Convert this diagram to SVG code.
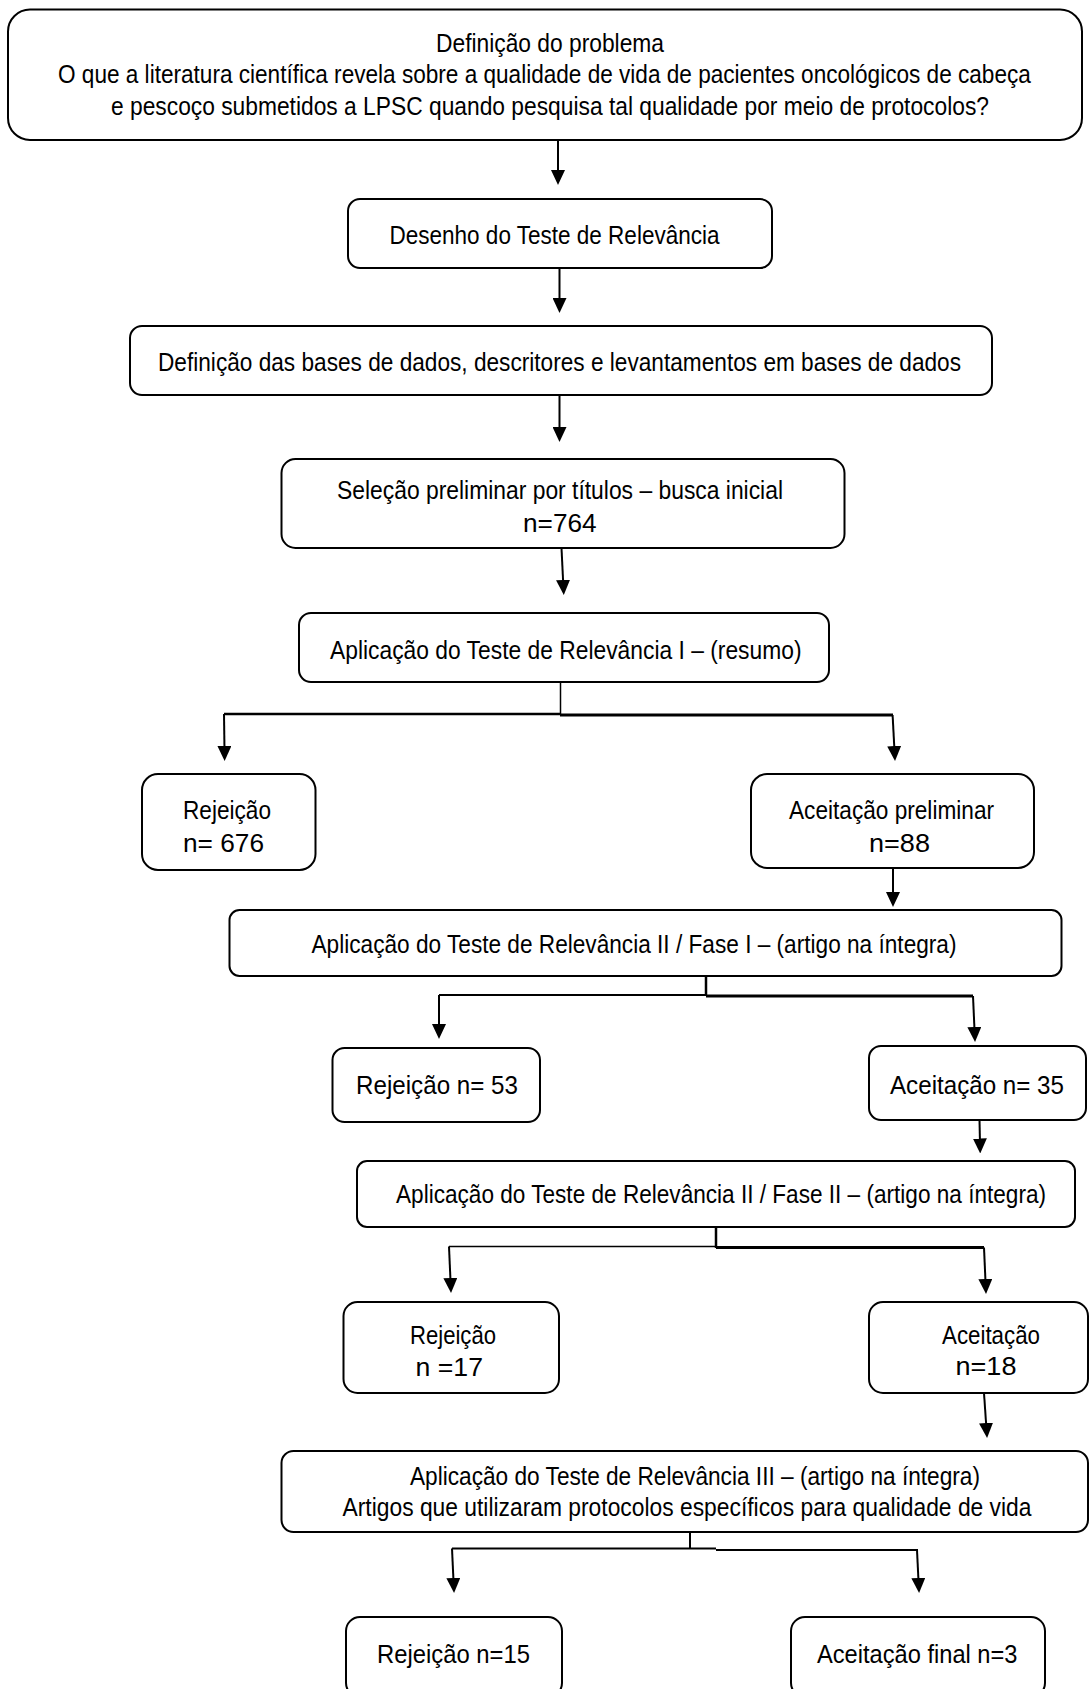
<svg xmlns="http://www.w3.org/2000/svg" width="1090" height="1689" viewBox="0 0 1090 1689">
<style>
.box{fill:#fff;stroke:#000;stroke-width:2}
.t{font-family:"Liberation Sans",Arial,sans-serif;font-size:26px;fill:#000}
.c{fill:none;stroke:#000;stroke-width:2}
.a{fill:none;stroke:#000;stroke-width:2;marker-end:url(#ah)}
</style>
<defs>
<marker id="ah" viewBox="0 0 15 14" refX="5" refY="7" markerWidth="15" markerHeight="14" markerUnits="userSpaceOnUse" orient="auto">
<path d="M0,0 L15,7 L0,14 z" fill="#000"/>
</marker>
</defs>
<rect x="0" y="0" width="1090" height="1689" fill="#fff"/>
<g id="connectors">
<path class="a" d="M558,140 L558,175"/>
<path class="a" d="M559.5,268 L559.5,303"/>
<path class="a" d="M559.5,396 L559.5,432"/>
<path class="a" d="M561.5,548 L563.3,585"/>
<path class="c" style="stroke-width:1.5" d="M560.5,682 L560.5,714"/>
<path class="c" style="stroke-width:2.5" d="M224,714 L561,714"/>
<path class="c" style="stroke-width:3" d="M560,715 L893,715"/>
<path class="a" d="M224,714 L224.5,751"/>
<path class="a" d="M892.6,715 L894.5,751"/>
<path class="a" d="M893,868 L893,897"/>
<path class="c" style="stroke-width:2.5" d="M706,976 L706,996"/>
<path class="c" d="M439,995 L706,995"/>
<path class="c" style="stroke-width:3" d="M706,996 L973,996"/>
<path class="a" d="M439,995 L439,1029"/>
<path class="a" d="M973,996 L974.6,1032"/>
<path class="a" d="M979.5,1120 L980,1143.5"/>
<path class="c" style="stroke-width:2.5" d="M716,1227 L716,1248"/>
<path class="c" style="stroke-width:1.5" d="M449,1246.5 L716,1246.5"/>
<path class="c" style="stroke-width:3" d="M716,1247.5 L984,1247.5"/>
<path class="a" d="M449,1246.5 L450.6,1283"/>
<path class="a" d="M984,1247.5 L985.6,1284"/>
<path class="a" d="M984,1393 L986.4,1428"/>
<path class="c" d="M690,1532 L690,1549"/>
<path class="c" d="M452,1548.5 L716,1548.5"/>
<path class="c" d="M716,1550 L917,1550 L917,1551"/>
<path class="a" d="M452,1548.5 L453.6,1583"/>
<path class="a" d="M917,1550 L918.6,1583"/>
</g>
<g id="n1"><rect class="box" x="8" y="9.5" width="1074" height="130.5" rx="22"/>
<text class="t" transform="translate(436,52) scale(0.8,1)" textLength="285" lengthAdjust="spacingAndGlyphs">Definição do problema</text>
<text class="t" transform="translate(58,83) scale(0.8,1)" textLength="1216" lengthAdjust="spacingAndGlyphs">O que a literatura científica revela sobre a qualidade de vida de pacientes oncológicos de cabeça</text>
<text class="t" transform="translate(111,115) scale(0.8,1)" textLength="1097.5" lengthAdjust="spacingAndGlyphs">e pescoço submetidos a LPSC quando pesquisa tal qualidade por meio de protocolos?</text></g>
<g id="n2"><rect class="box" x="348" y="199" width="424" height="69" rx="12"/>
<text class="t" transform="translate(389.5,244) scale(0.8,1)" textLength="412.5" lengthAdjust="spacingAndGlyphs">Desenho do Teste de Relevância</text></g>
<g id="n3"><rect class="box" x="130" y="326" width="862" height="69" rx="12"/>
<text class="t" transform="translate(158,371) scale(0.8,1)" textLength="1003.75" lengthAdjust="spacingAndGlyphs">Definição das bases de dados, descritores e levantamentos em bases de dados</text></g>
<g id="n4"><rect class="box" x="281.5" y="459" width="563" height="89" rx="14"/>
<text class="t" transform="translate(337,499) scale(0.8,1)" textLength="557.5" lengthAdjust="spacingAndGlyphs">Seleção preliminar por títulos – busca inicial</text>
<text class="t" transform="translate(523,532) scale(0.8,1)" textLength="92" lengthAdjust="spacingAndGlyphs">n=764</text></g>
<g id="n5"><rect class="box" x="299" y="613" width="530" height="69" rx="12"/>
<text class="t" transform="translate(330,659) scale(0.8,1)" textLength="589.4" lengthAdjust="spacingAndGlyphs">Aplicação do Teste de Relevância I – (resumo)</text></g>
<g id="n6"><rect class="box" x="142" y="774" width="173.5" height="96" rx="16"/>
<text class="t" transform="translate(183,819) scale(0.8,1)" textLength="110" lengthAdjust="spacingAndGlyphs">Rejeição</text>
<text class="t" transform="translate(183,852) scale(0.8,1)" textLength="101.25" lengthAdjust="spacingAndGlyphs">n= 676</text></g>
<g id="n7"><rect class="box" x="751" y="774" width="283" height="94" rx="16"/>
<text class="t" transform="translate(789,819) scale(0.8,1)" textLength="256.25" lengthAdjust="spacingAndGlyphs">Aceitação preliminar</text>
<text class="t" transform="translate(869,852) scale(0.8,1)" textLength="76.25" lengthAdjust="spacingAndGlyphs">n=88</text></g>
<g id="n8"><rect class="box" x="229.5" y="910" width="832" height="66" rx="10"/>
<text class="t" transform="translate(311.5,953) scale(0.8,1)" textLength="806.25" lengthAdjust="spacingAndGlyphs">Aplicação do Teste de Relevância II / Fase I – (artigo na íntegra)</text></g>
<g id="n9"><rect class="box" x="332.5" y="1048" width="207.5" height="74" rx="12"/>
<text class="t" transform="translate(356,1094) scale(0.8,1)" textLength="202.5" lengthAdjust="spacingAndGlyphs">Rejeição n= 53</text></g>
<g id="n10"><rect class="box" x="869" y="1046" width="217" height="74" rx="12"/>
<text class="t" transform="translate(890,1094) scale(0.8,1)" textLength="217.5" lengthAdjust="spacingAndGlyphs">Aceitação n= 35</text></g>
<g id="n11"><rect class="box" x="357" y="1161" width="718" height="66" rx="10"/>
<text class="t" transform="translate(396,1203) scale(0.8,1)" textLength="812.5" lengthAdjust="spacingAndGlyphs">Aplicação do Teste de Relevância II / Fase II – (artigo na íntegra)</text></g>
<g id="n12"><rect class="box" x="343.5" y="1302" width="215.5" height="91" rx="14"/>
<text class="t" transform="translate(410,1344) scale(0.8,1)" textLength="107.5" lengthAdjust="spacingAndGlyphs">Rejeição</text>
<text class="t" transform="translate(415.5,1376) scale(0.8,1)" textLength="84.4" lengthAdjust="spacingAndGlyphs">n =17</text></g>
<g id="n13"><rect class="box" x="869" y="1302" width="219" height="91" rx="14"/>
<text class="t" transform="translate(942,1344) scale(0.8,1)" textLength="122.5" lengthAdjust="spacingAndGlyphs">Aceitação</text>
<text class="t" transform="translate(955.5,1375) scale(0.8,1)" textLength="76.25" lengthAdjust="spacingAndGlyphs">n=18</text></g>
<g id="n14"><rect class="box" x="281.5" y="1451" width="806.5" height="81" rx="12"/>
<text class="t" transform="translate(410,1485) scale(0.8,1)" textLength="712.5" lengthAdjust="spacingAndGlyphs">Aplicação do Teste de Relevância III – (artigo na íntegra)</text>
<text class="t" transform="translate(342.5,1516) scale(0.8,1)" textLength="861.25" lengthAdjust="spacingAndGlyphs">Artigos que utilizaram protocolos específicos para qualidade de vida</text></g>
<g id="n15"><rect class="box" x="346" y="1617" width="216" height="80" rx="14"/>
<text class="t" transform="translate(377,1663) scale(0.8,1)" textLength="191.25" lengthAdjust="spacingAndGlyphs">Rejeição n=15</text></g>
<g id="n16"><rect class="box" x="791" y="1617" width="254" height="80" rx="14"/>
<text class="t" transform="translate(817,1663) scale(0.8,1)" textLength="250.6" lengthAdjust="spacingAndGlyphs">Aceitação final n=3</text></g>
</svg>
